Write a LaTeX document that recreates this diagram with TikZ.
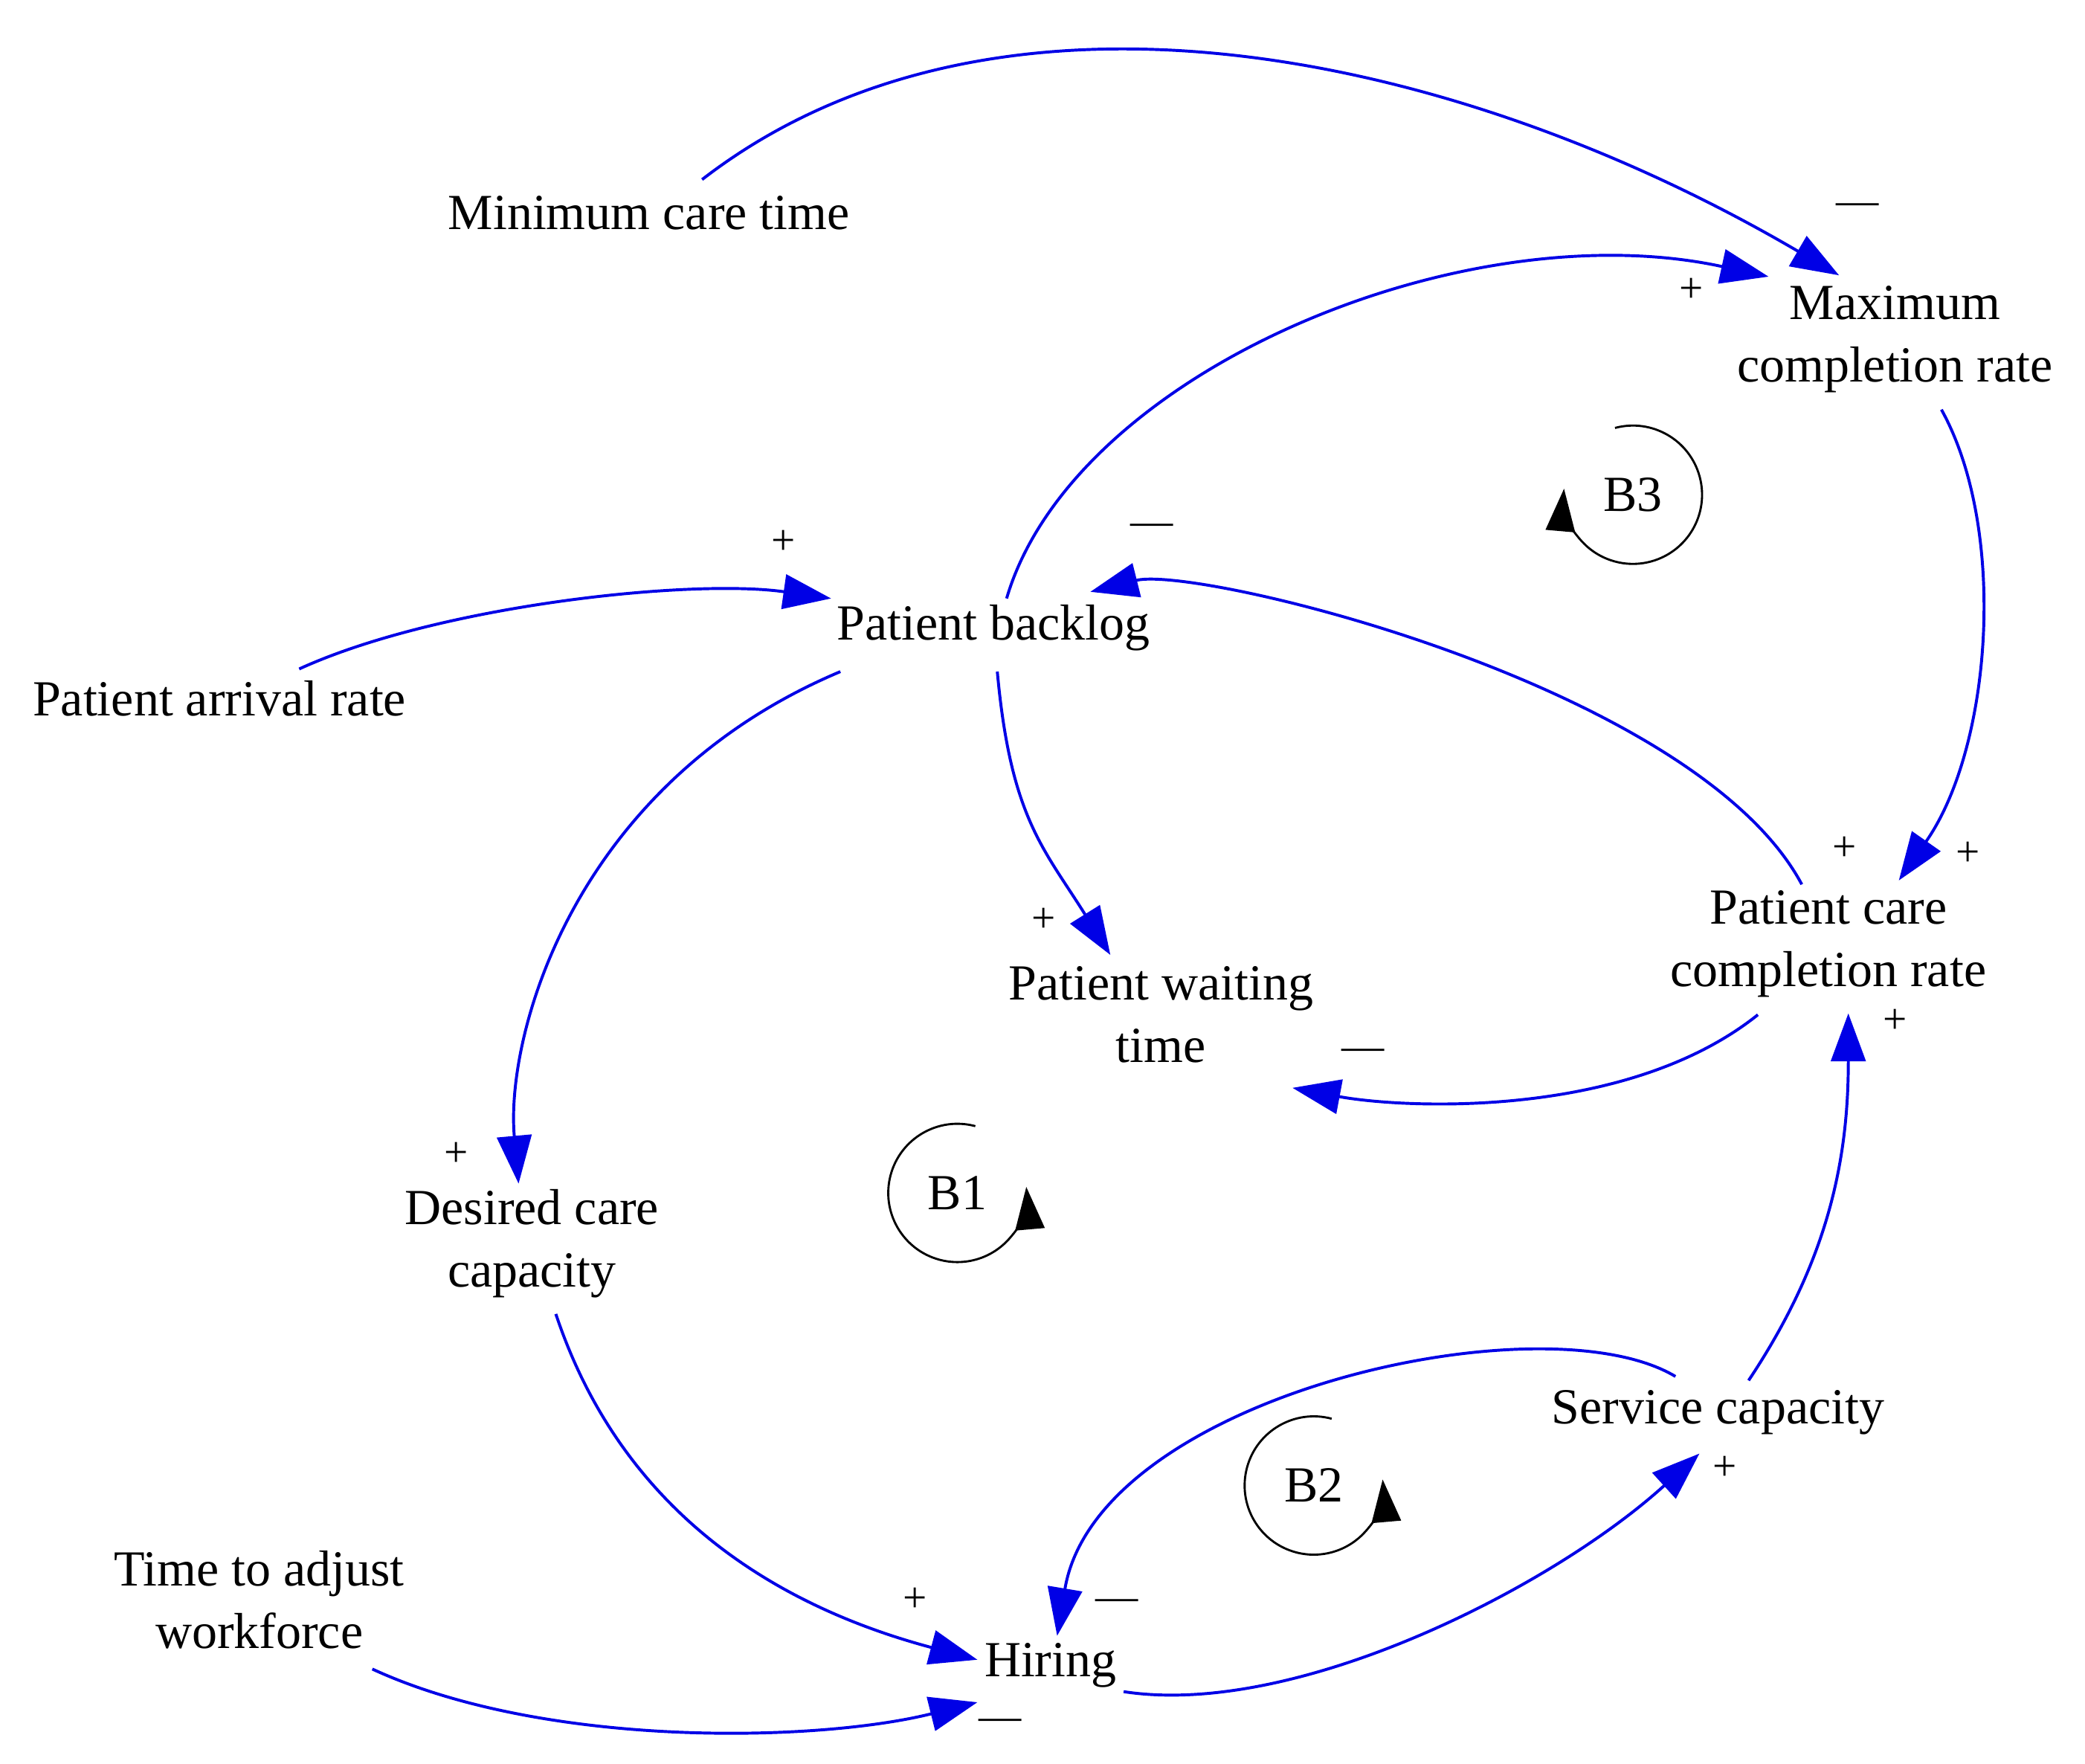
\documentclass[tikz,border=0pt]{standalone}
\usepackage{fontspec}
\setmainfont{Liberation Serif}
\usetikzlibrary{arrows.meta,calc}
\definecolor{lk}{RGB}{0,0,230}
\begin{document}
\begin{tikzpicture}[x=1pt,y=1pt,
  v/.style={font=\fontsize{38}{47}\selectfont,align=center,inner sep=2pt},
  sg/.style={font=\fontsize{32}{36}\selectfont,inner sep=0pt},
  lnk/.style={draw=lk,line width=2.2pt,-{Triangle[length=36pt,width=26pt,fill=lk]}},
  lp/.style={draw=black,line width=1.6pt,-{Triangle[length=32pt,width=22pt]}}]
\useasboundingbox (0,0) rectangle (1568,-1326);
\node[v] (min) at (488,-160) {Minimum care time};
\node[v] (max) at (1425,-255) {Maximum\\completion rate};
\node[v] (backlog) at (747,-472) {Patient backlog};
\node[v] (arrival) at (165,-525) {Patient arrival rate};
\node[v] (waiting) at (873,-763) {Patient waiting\\time};
\node[v] (pccr) at (1375,-710) {Patient care\\completion rate};
\node[v] (desired) at (400,-935) {Desired care\\capacity};
\node[v] (service) at (1292,-1062) {Service capacity};
\node[v] (time) at (195,-1203) {Time to adjust\\workforce};
\node[v] (hiring) at (790,-1252) {Hiring};

\draw[lnk] ($(min)+(40,25)$) .. controls +(220,170) and +(-290,170) .. ($(max)+(-42,48)$);
\draw[lnk] ($(backlog)+(10,22)$) .. controls +(50,170) and +(-230,50) .. ($(max)+(-95,47)$);
\draw[lnk] ($(max)+(35,-53)$) .. controls +(50,-90) and +(70,100) .. ($(pccr)+(53,48)$);
\draw[lnk] ($(pccr)+(-20,45)$) .. controls +(-80,150) and +(80,20) .. ($(backlog)+(73,27)$);
\draw[lnk] ($(arrival)+(60,22)$) .. controls +(105,48) and +(-105,15) .. ($(backlog)+(-122,22)$);
\draw[lnk] ($(backlog)+(-115,-33)$) .. controls +(-202,-85) and +(-10,110) .. ($(desired)+(-10,45)$);
\draw[lnk] ($(backlog)+(3,-33)$) .. controls +(10,-110) and +(-50,80) .. ($(waiting)+(-38,45)$);
\draw[lnk] ($(pccr)+(-53,-53)$) .. controls +(-100,-80) and +(80,-15) .. ($(waiting)+(99,-55)$);
\draw[lnk] ($(desired)+(18,-53)$) .. controls +(50,-150) and +(-150,40) .. ($(hiring)+(-55,4)$);
\draw[lnk] ($(time)+(85,-52)$) .. controls +(130,-60) and +(-120,-30) .. ($(hiring)+(-55,-28)$);
\draw[lnk] ($(hiring)+(55,-20)$) .. controls +(130,-20) and +(-110,-100) .. ($(service)+(-14,-31)$);
\draw[lnk] ($(service)+(-32,27)$) .. controls +(-100,60) and +(30,180) .. ($(hiring)+(5,22)$);
\draw[lnk] ($(service)+(23,24)$) .. controls +(60,90) and +(0,-110) .. ($(pccr)+(15,-52)$);

\node[sg] (s1) at (1397,-157) {\textemdash};
\node[sg] (s2) at (1272,-218) {+};
\node[sg] (s3) at (1480,-642) {+};
\node[sg] (s4) at (1387,-638) {+};
\node[sg] (s5) at (866,-398) {\textemdash};
\node[sg] (s6) at (589,-408) {+};
\node[sg] (s7) at (343,-868) {+};
\node[sg] (s8) at (785,-692) {+};
\node[sg] (s9) at (1025,-793) {\textemdash};
\node[sg] (s10) at (1425,-768) {+};
\node[sg] (s11) at (688,-1203) {+};
\node[sg] (s12) at (752,-1297) {\textemdash};
\node[sg] (s13) at (1297,-1104) {+};
\node[sg] (s14) at (840,-1207) {\textemdash};

\node[v] (b3) at (1228,-372) {B3};
\draw[lp] ($(b3)+(105:52)$) arc[start angle=105,end angle=-185,radius=52];
\node[v] (b1) at (720,-897) {B1};
\draw[lp] ($(b1)+(75:52)$) arc[start angle=75,end angle=365,radius=52];
\node[v] (b2) at (988,-1117) {B2};
\draw[lp] ($(b2)+(75:52)$) arc[start angle=75,end angle=365,radius=52];
\end{tikzpicture}
\end{document}
